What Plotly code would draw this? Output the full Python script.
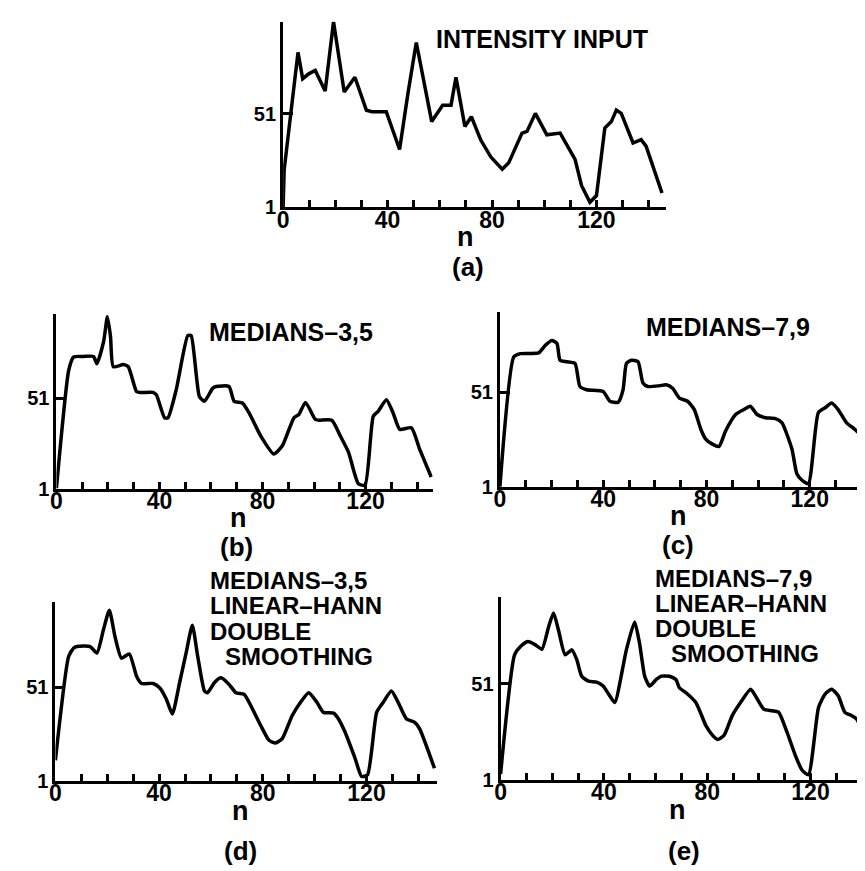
import plotly.graph_objects as go

# ---------------- data ----------------
n_a = [0, 0.4, 5.7, 7.5, 9.8, 12.3, 16.1, 19.3, 23.4, 27.5, 31.9, 34.0, 39.5, 44.6, 47.8, 51.0,
       56.9, 61.1, 64.3, 66.2, 69.6, 72.1, 75.7, 79.5, 83.9, 86.4, 91.5, 93.4, 96.6, 101.0,
       106.1, 111.8, 114.3, 117.5, 120.0, 123.2, 125.7, 127.6, 129.5, 134.0, 137.1, 139.0, 145.1]
val_a = [1, 21, 84, 69.9, 72.5, 74.3, 63.3, 100.4, 62.8, 70.7, 53, 52.2, 52.2, 31.9, 61.9, 89.3,
         46.9, 55.7, 55.7, 70.7, 44.3, 49.5, 37, 28, 21.3, 24.8, 40.7, 41.6, 51.3, 39.8,
         40.7, 26.6, 12.5, 3.6, 7.2, 43.4, 46.9, 53.1, 51.3, 35.4, 37.2, 33.7, 8.6]

n_b = [0, 4.8, 6.7, 10.5, 14.4, 15.7, 18.3, 19.8, 21.0, 22.1, 26.0, 27.9, 31.1, 32.4, 37.5, 38.8,
       42.0, 43.3, 46.5, 51.0, 52.3, 55.5, 57.5, 60.7, 62.0, 67.0, 69.0, 72.2, 74.8, 79.3,
       84.4, 87.7, 92.2, 94.1, 96.7, 100.5, 101.8, 106.9, 110.2, 113.4, 117.2, 119.8, 123.0,
       124.9, 128.1, 130.7, 133.3, 137.8, 141.0, 145.5]
val_b = [1, 66.5, 73.7, 74, 74, 70, 82, 95.9, 85, 68.3, 69.5, 68.3, 54.6, 54.1, 54.1, 52.8,
         40.1, 40.1, 55.5, 85.5, 85.5, 51.9, 49.2, 56.5, 57.4, 57.4, 49.2, 48.3, 42.8, 30.1,
         20.1, 24.6, 40.1, 41.9, 48.6, 39.2, 38.8, 38.8, 30.1, 21.0, 3.7, 2.8, 41.0,
         43.7, 50.1, 42.8, 33.7, 34.6, 22.8, 7.4]

n_c = [0, 5.4, 7.9, 15.0, 17.6, 20.1, 22.1, 23.3, 25.9, 29.1, 31.0, 33.6, 40.0, 42.6, 45.8,
       47.7, 49.0, 50.9, 53.5, 55.4, 57.3, 61.8, 64.4, 66.9, 69.5, 72.7, 75.3, 77.8, 79.7,
       82.3, 84.9, 87.4, 91.3, 94.5, 97.0, 99.6, 102.8, 106.7, 109.2, 113.1, 115.0, 117.0,
       119.5, 123.3, 125.9, 128.5, 131.0, 134.2, 137.4, 140.0, 144.5]
val_c = [1, 69.8, 71.5, 71.9, 75.9, 78.5, 76.8, 68.0, 67.2, 66.3, 54.1, 52.4, 51.5, 46.3, 45.8,
         52.4, 66.3, 68.0, 67.2, 55.9, 54.1, 54.5, 55.0, 53.2, 48.0, 46.3, 41.9, 31.5, 26.3,
         23.6, 22.4, 30.6, 39.3, 41.9, 43.7, 39.3, 37.6, 37.1, 35.0, 21.0, 8.0, 4.5,
         2.7, 40.2, 42.8, 45.4, 41.9, 35.0, 31.5, 28.0, 10.6]

n_d = [0, 5.1, 7.0, 8.3, 13.4, 16.0, 18.5, 20.8, 23.0, 25.5, 28.5, 31.3, 33.2, 37.7, 40.2,
       42.8, 45.1, 47.9, 50.4, 52.8, 54.9, 57.5, 58.7, 61.3, 63.9, 67.0, 69.6, 72.8, 75.4,
       79.2, 82.4, 84.9, 87.5, 91.3, 94.5, 97.7, 100.9, 103.4, 107.3, 109.2, 111.7, 115.6,
       118.1, 120.4, 123.9, 126.4, 129.6, 132.2, 135.4, 138.6, 140.5, 146.2]
val_d = [12, 67.3, 71.7, 72.6, 72.6, 69.1, 81.4, 91.9, 77.8, 66.4, 68.7, 56.8, 52.9, 52.9, 50.6,
         44.5, 36.6, 53.3, 69.1, 84.0, 67.3, 48.9, 48.0, 53.3, 55.9, 52.4, 48.0, 47.1, 41.0,
         30.5, 22.6, 21.2, 23.5, 35.7, 42.8, 48.0, 42.8, 37.5, 37.1, 34.0, 27.0, 12.9,
         3.3, 4.2, 37.5, 42.8, 48.9, 42.8, 34.0, 32.2, 28.7, 7.7]

n_e = [0, 5.4, 7.7, 10.5, 13.5, 16.0, 18.6, 20.5, 22.4, 25.0, 27.6, 29.5, 31.4, 34.0, 37.2,
       39.7, 42.3, 44.2, 48.7, 51.9, 53.8, 55.8, 57.7, 60.3, 62.2, 65.4, 67.9, 69.2, 71.8,
       75.6, 79.5, 82.1, 84.0, 86.5, 89.7, 92.9, 96.8, 98.7, 101.9, 105.1, 107.7, 110.9,
       114.1, 116.7, 119.2, 123.1, 125.6, 128.2, 130.8, 133.3, 135.9, 137.8, 141.0, 144.2]
val_e = [4, 66.0, 70.3, 72.9, 71.2, 68.9, 80.6, 87.8, 78.9, 66.0, 68.6, 63.5, 54.9, 52.3, 51.8,
         49.8, 44.6, 41.2, 68.6, 83.1, 72.0, 54.9, 49.8, 53.2, 54.9, 54.9, 53.2, 48.9, 46.3,
         41.2, 29.2, 24.1, 22.0, 24.1, 34.4, 41.2, 48.1, 44.6, 37.8, 36.9, 36.1, 25.8,
         13.8, 6.1, 3.6, 38.6, 45.5, 48.1, 44.6, 36.1, 34.4, 32.7, 24.1, 13.8]

x_tickvals = [0, 10, 20, 30, 40, 50, 60, 70, 80, 90, 100, 110, 120, 130, 140]
x_ticktext = ["0", "", "", "", "40", "", "", "", "80", "", "", "", "120", "", ""]
y_tickvals = [1, 51]
y_ticktext = ["1", "51"]

# ---------------- layout helpers ----------------
W, H = 865, 871
FONT = "Liberation Sans, Arial, Helvetica, sans-serif"


def px(x):
    return x / W


def py(y):
    return 1 - y / H


# panel geometry in pixels: x of n=0, x end, y top, y baseline, x max, y max
panels = [
    dict(n=n_a, v=val_a, x0=271, x1=657, yt=14, yb=201.7, xm=146.8, ym=100.4, shape="linear"),
    dict(n=n_b, v=val_b, x0=42.7, x1=421.7, yt=310, yb=486.7, xm=146.1, ym=97.4, shape="spline"),
    dict(n=n_c, v=val_c, x0=489.3, x1=865, yt=308.3, yb=485, xm=144.5, ym=93.3, shape="spline"),
    dict(n=n_d, v=val_d, x0=41.7, x1=426, yt=601.7, yb=782.7, xm=147.2, ym=96.3, shape="spline"),
    dict(n=n_e, v=val_e, x0=490, x1=865, yt=596.7, yb=781.7, xm=144.2, ym=96.0, shape="spline"),
]

fig = go.Figure()
layout = dict(
    width=W, height=H, margin=dict(l=0, r=0, t=0, b=0, pad=0),
    paper_bgcolor="white", plot_bgcolor="white", showlegend=False,
    font=dict(family=FONT, color="black"),
)

for i, p in enumerate(panels):
    k = "" if i == 0 else str(i + 1)
    line = dict(color="black", width=3.5, shape=p["shape"])
    if p["shape"] == "spline":
        line["smoothing"] = 0.55
    fig.add_trace(go.Scatter(x=p["n"], y=p["v"], mode="lines", line=line,
                             xaxis="x" + k, yaxis="y" + k, hoverinfo="skip"))
    layout["xaxis" + k] = dict(
        domain=[px(p["x0"]), min(1.0, px(p["x1"]))], range=[0, p["xm"]],
        anchor="y" + k, showgrid=False, zeroline=False, showline=True,
        linecolor="black", linewidth=3, ticks="inside", ticklen=7, tickwidth=2.5,
        tickcolor="black", tickvals=x_tickvals, ticktext=x_ticktext,
        tickfont=dict(family=FONT, size=23, color="black", weight="bold"),
        ticklabelstandoff=-10,
        fixedrange=True,
    )
    layout["yaxis" + k] = dict(
        domain=[py(p["yb"]), py(p["yt"])], range=[1, p["ym"]],
        anchor="x" + k, showgrid=False, zeroline=False, showline=True,
        linecolor="black", linewidth=3, ticks="inside", ticklen=10, tickwidth=2.5,
        tickcolor="black", tickvals=y_tickvals, ticktext=y_ticktext,
        tickfont=dict(family=FONT, size=20, color="black", weight="bold"),
        fixedrange=True,
    )

fig.update_layout(**layout)


def label(text, x, y, size=24, xanchor="center"):
    fig.add_annotation(text=text, x=px(x), y=py(y), xref="paper", yref="paper",
                       xanchor=xanchor, yanchor="middle", showarrow=False,
                       font=dict(family=FONT, size=size, color="black", weight="bold"))


# titles (y given as visual centre; shift up to compensate box offset)
label("INTENSITY INPUT", 532, 31, size=25)
label("MEDIANS\u20133,5", 279, 328, size=25)
label("MEDIANS\u20137,9", 719, 323, size=25)
for txt, xx, yy in [("MEDIANS\u20133,5", 195, 580), ("LINEAR\u2013HANN", 195, 605.5),
                    ("DOUBLE", 195, 631), ("SMOOTHING", 210, 656.5)]:
    label(txt, xx, yy, xanchor="left")
for txt, xx, yy in [("MEDIANS\u20137,9", 643, 577.5), ("LINEAR\u2013HANN", 643, 603),
                    ("DOUBLE", 643, 628.5), ("SMOOTHING", 660, 654)]:
    label(txt, xx, yy, xanchor="left")

# axis names and panel letters
for nx, ny, tx, ty, t in [(455, 232, 457, 262, "(a)"), (226, 517, 224, 546, "(b)"),
                          (669, 515, 669, 544, "(c)"), (228, 813, 228, 854, "(d)"),
                          (668, 812, 675, 854, "(e)")]:
    label("n", nx, ny, size=27)
    label(t, tx, ty, size=26)

fig.write_html("out.html")
